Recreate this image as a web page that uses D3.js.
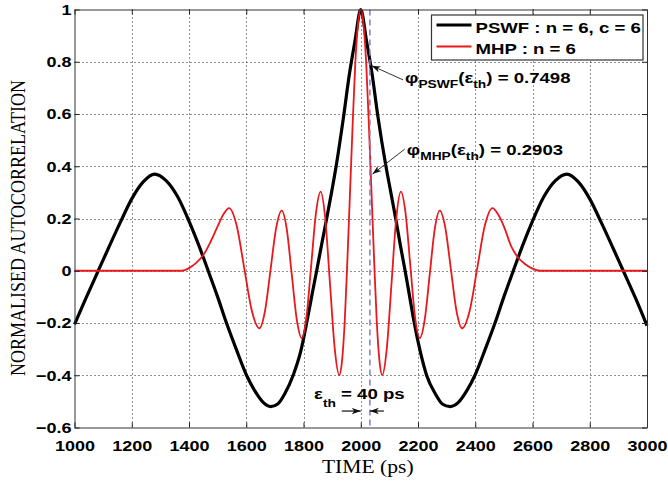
<!DOCTYPE html>
<html>
<head>
<meta charset="utf-8">
<script src="https://cdn.jsdelivr.net/npm/d3@7"></script>
<style>
body { margin: 0; background: #fff; }
.tick text { font-family: "Liberation Sans", Arial, sans-serif; font-weight: bold; font-size: 15px; fill: #000; }
.bold { font-family: "Liberation Sans", Arial, sans-serif; font-weight: bold; fill: #000; }
.serif { font-family: "Liberation Serif", "Times New Roman", serif; fill: #000; }
</style>
</head>
<body>
<div id="chart"></div>
<script>
// ticks
const xTicks = [1000, 1200, 1400, 1600, 1800, 2000, 2200, 2400, 2600, 2800, 3000];
const yTicks = [-0.6, -0.4, -0.2, 0, 0.2, 0.4, 0.6, 0.8, 1];

// PSWF autocorrelation (n = 6, c = 6)
const pswfTime = [1000, 1040, 1083, 1120, 1160, 1200, 1240, 1280, 1320, 1360, 1400, 1435, 1467,
  1500, 1531, 1565, 1601, 1630, 1660, 1685, 1710, 1735, 1764, 1790, 1811, 1830, 1846, 1865, 1881,
  1898, 1914, 1940, 1960, 1980, 2000,
  2020, 2040, 2060, 2088, 2105, 2122, 2138, 2155, 2171, 2187, 2208, 2230, 2260, 2285, 2312, 2340,
  2370, 2399, 2435, 2469, 2500, 2533, 2565, 2600, 2640, 2680, 2720, 2760, 2800, 2840, 2880, 2917,
  2960, 3000];
const pswfValue = [-0.205, -0.105, 0.0, 0.09, 0.185, 0.275, 0.34, 0.37, 0.345, 0.284, 0.19, 0.095, 0.0,
  -0.10, -0.20, -0.30, -0.40, -0.46, -0.505, -0.52, -0.51, -0.47, -0.40, -0.31, -0.20, -0.09, 0.0, 0.11, 0.20,
  0.30, 0.40, 0.59, 0.75, 0.88, 1.0,
  0.88, 0.75, 0.59, 0.40, 0.30, 0.20, 0.10, 0.0, -0.10, -0.20, -0.31, -0.40, -0.47, -0.51, -0.52, -0.505,
  -0.46, -0.40, -0.30, -0.20, -0.10, 0.0, 0.095, 0.19, 0.284, 0.345, 0.37, 0.34, 0.275, 0.185, 0.09, 0.0,
  -0.105, -0.21];

// MHP autocorrelation (n = 6)
const mhpTime = [1000, 1374, 1400, 1425, 1450, 1475, 1500, 1520, 1540,
  1566.5, 1593, 1619.5, 1646, 1665.5, 1685, 1704.5, 1724, 1741.5, 1759, 1776.5, 1794,
  1810.5, 1827, 1843.5, 1860, 1876, 1892.5, 1909, 1925, 1934.4, 1944, 1953, 1962.5, 1972, 1981, 1990.6, 2000,
  2009.4, 2019, 2028, 2037.5, 2047, 2056, 2065.6, 2075, 2091, 2107.5, 2124, 2140, 2156.5, 2173, 2189.5, 2206,
  2223.5, 2241, 2258.5, 2276, 2295.5, 2315, 2334.5, 2354, 2380.5, 2407, 2433.5, 2460,
  2480, 2500, 2527, 2550, 2575, 2600, 2626, 3000];
const mhpValue = [0, 0, 0.01, 0.03, 0.06, 0.11, 0.17, 0.215, 0.24,
  0.173, 0.01, -0.153, -0.22, -0.154, 0.005, 0.164, 0.23, 0.159, -0.014, -0.187, -0.258,
  -0.176, 0.022, 0.221, 0.303, 0.20, -0.049, -0.297, -0.40, -0.347, -0.195, 0.032, 0.30, 0.568, 0.795, 0.947, 1.0,
  0.947, 0.795, 0.568, 0.30, 0.032, -0.195, -0.347, -0.40, -0.297, -0.049, 0.20, 0.303, 0.221, 0.022, -0.176, -0.258,
  -0.187, -0.014, 0.159, 0.23, 0.164, 0.005, -0.154, -0.22, -0.153, 0.01, 0.173, 0.24,
  0.215, 0.17, 0.09, 0.05, 0.025, 0.008, 0, 0];

const seriesNames = ["PSWF : n = 6, c = 6", "MHP : n = 6"];
const seriesColors = ["#000000", "#e8181c"];
const seriesWidths = [3.2, 1.8];

const epsTime = 2032;   // dashed threshold line
const epsLabel = ["\u03b5", "th", " = 40 ps"];
const annoNames = ["PSWF", "MHP"];
const annoValues = ["0.7498", "0.2903"];

const W = 668, H = 487;
const margin = { top: 9.5, right: 21, bottom: 59.5, left: 74.5 };
const stretch = "scale(1.2,1)";

const svg = d3.select("#chart").append("svg")
  .attr("width", W).attr("height", H);

const defs = svg.append("defs");
defs.append("marker").attr("id", "head")
  .attr("markerUnits", "userSpaceOnUse")
  .attr("markerWidth", 10).attr("markerHeight", 8)
  .attr("refX", 9).attr("refY", 4).attr("orient", "auto")
  .append("path").attr("d", "M0,0.8 L9,4 L0,7.2 L2.5,4 z").attr("fill", "#111");

const xScale = d3.scaleLinear().domain([1000, 3000]).range([margin.left, W - margin.right]);
const yScale = d3.scaleLinear().domain([-0.6, 1]).range([H - margin.bottom, margin.top]);
const x0 = xScale.range()[0], x1 = xScale.range()[1];
const yb = yScale.range()[0], yt = yScale.range()[1];

// dotted grid
const grid = svg.append("g").attr("stroke", "#222").attr("stroke-width", 1).attr("stroke-dasharray", "1,3");
grid.selectAll(".gx").data(xTicks.slice(1, -1)).enter().append("line")
  .attr("x1", d => Math.round(xScale(d)) + 0.5).attr("x2", d => Math.round(xScale(d)) + 0.5)
  .attr("y1", yt).attr("y2", yb);
grid.selectAll(".gy").data(yTicks.slice(1, -1)).enter().append("line")
  .attr("y1", d => Math.round(yScale(d)) + 0.5).attr("y2", d => Math.round(yScale(d)) + 0.5)
  .attr("x1", x0).attr("x2", x1);

// curves
const line = d3.line().x(d => xScale(d[0])).y(d => yScale(d[1])).curve(d3.curveMonotoneX);
const series = [d3.zip(pswfTime, pswfValue), d3.zip(mhpTime, mhpValue)];
svg.append("g").selectAll("path").data(series).enter().append("path")
  .attr("d", line)
  .attr("fill", "none")
  .attr("stroke", (d, i) => seriesColors[i])
  .attr("stroke-width", (d, i) => seriesWidths[i])
  .attr("stroke-linejoin", "round");

// threshold line
svg.append("line")
  .attr("x1", xScale(epsTime)).attr("x2", xScale(epsTime))
  .attr("y1", yt).attr("y2", yb)
  .attr("stroke", "#7b7fc4").attr("stroke-width", 1.5).attr("stroke-dasharray", "6,4");

// axes (MATLAB box, inward ticks)
function styleAxis(g) {
  g.select(".domain").attr("stroke", "#333");
  g.selectAll(".tick line").attr("stroke", "#222");
}
svg.append("g").attr("transform", `translate(0,${yb})`)
  .call(d3.axisBottom(xScale).tickValues(xTicks).tickSize(-5).tickPadding(13).tickSizeOuter(0).tickFormat(d3.format("d")))
  .call(styleAxis)
  .call(g => g.selectAll("text").attr("transform", stretch));
svg.append("g").attr("transform", `translate(${x0},0)`)
  .call(d3.axisLeft(yScale).tickValues(yTicks).tickSize(-5).tickPadding(2.5).tickSizeOuter(0).tickFormat(d3.format("~g")))
  .call(styleAxis)
  .call(g => g.selectAll("text").attr("transform", stretch));
svg.append("g").attr("transform", `translate(0,${yt})`)
  .call(d3.axisTop(xScale).tickValues(xTicks).tickSize(-5).tickSizeOuter(0).tickFormat(""))
  .call(styleAxis);
svg.append("g").attr("transform", `translate(${x1},0)`)
  .call(d3.axisRight(yScale).tickValues(yTicks).tickSize(-5).tickSizeOuter(0).tickFormat(""))
  .call(styleAxis);

// axis titles
svg.append("text").attr("class", "serif")
  .attr("transform", `translate(${(x0 + x1) / 2 + 7},473) ${stretch}`)
  .attr("text-anchor", "middle").attr("font-size", 18)
  .text("TIME (ps)");
svg.append("text").attr("class", "serif")
  .attr("transform", `translate(25,228) ${stretch} rotate(-90)`)
  .attr("text-anchor", "middle").attr("font-size", 18)
  .text("NORMALISED AUTOCORRELATION");

// legend
const lg = svg.append("g").attr("transform", `translate(${x1 - 215.5},${yt + 5.5})`);
lg.append("rect").attr("width", 211.5).attr("height", 45)
  .attr("fill", "#fff").attr("stroke", "#333").attr("stroke-width", 1.2);
seriesNames.forEach((name, i) => {
  const cy = 10 + i * 21.5;
  lg.append("line").attr("x1", 5).attr("x2", 40).attr("y1", cy).attr("y2", cy)
    .attr("stroke", seriesColors[i]).attr("stroke-width", seriesWidths[i]);
  lg.append("text").attr("class", "bold").attr("font-size", 15.5)
    .attr("transform", `translate(44,${cy + 7.5}) ${stretch}`)
    .text(name);
});

// value annotations with arrows
const annoText = [[2155, 0.719], [2161, 0.443]];
const annoTip = [[2038, 0.785], [2041, 0.37]];
annoNames.forEach((nm, i) => {
  const tx = xScale(annoText[i][0]), ty = yScale(annoText[i][1]);
  svg.append("line")
    .attr("x1", tx - 2).attr("y1", ty - (i === 0 ? 3 : 6))
    .attr("x2", xScale(annoTip[i][0])).attr("y2", yScale(annoTip[i][1]))
    .attr("stroke", "#333").attr("stroke-width", 1)
    .attr("marker-end", "url(#head)");
  const t = svg.append("text").attr("class", "bold").attr("font-size", 15.5)
    .attr("transform", `translate(${tx},${ty}) ${stretch}`);
  t.append("tspan").text("\u03c6");
  t.append("tspan").attr("font-size", 11.5).attr("dy", 5).text(nm);
  t.append("tspan").attr("dy", -5).text("(\u03b5");
  t.append("tspan").attr("font-size", 11.5).attr("dy", 5).text("th");
  t.append("tspan").attr("dy", -5).text(") = " + annoValues[i]);
});

// epsilon width label
const et = svg.append("text").attr("class", "bold").attr("font-size", 15.5)
  .attr("transform", `translate(${xScale(1837)},${yScale(-0.491)}) ${stretch}`);
et.append("tspan").text(epsLabel[0]);
et.append("tspan").attr("font-size", 11.5).attr("dy", 8).text(epsLabel[1]);
et.append("tspan").attr("dy", -8).text(epsLabel[2]);
const ay = yScale(-0.537);
svg.append("line").attr("x1", xScale(2000) - 19).attr("x2", xScale(2000))
  .attr("y1", ay).attr("y2", ay).attr("stroke", "#111").attr("stroke-width", 1.2)
  .attr("marker-end", "url(#head)");
svg.append("line").attr("x1", xScale(epsTime) + 14).attr("x2", xScale(epsTime))
  .attr("y1", ay).attr("y2", ay).attr("stroke", "#111").attr("stroke-width", 1.2)
  .attr("marker-end", "url(#head)");
</script>
</body>
</html>
